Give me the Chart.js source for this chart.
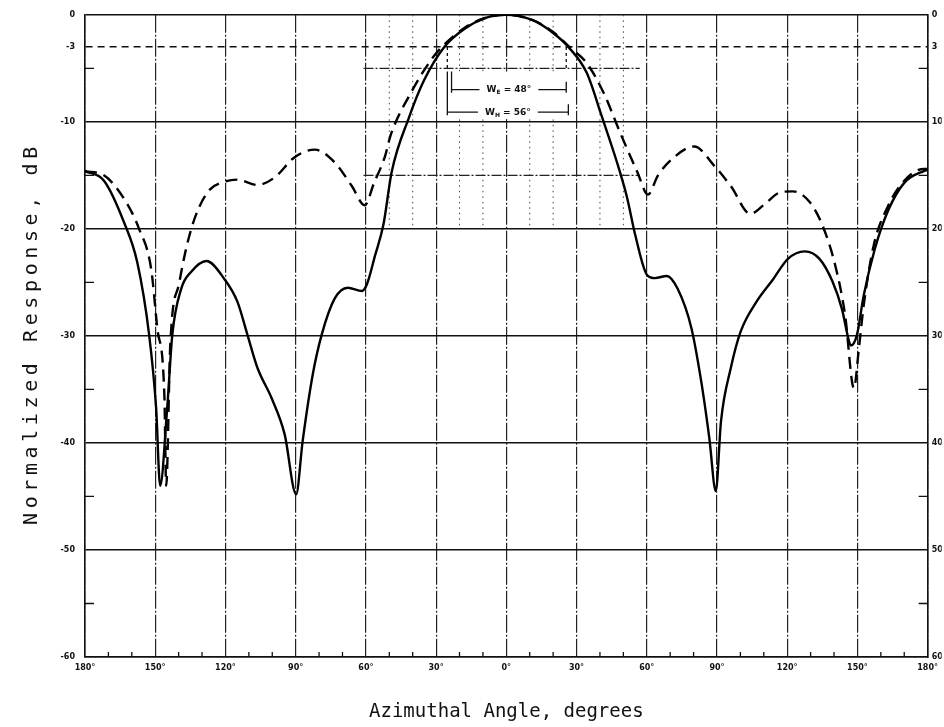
<!DOCTYPE html>
<html>
<head>
<meta charset="utf-8">
<script src="https://cdn.jsdelivr.net/npm/chart.js@4.4.0/dist/chart.umd.min.js"></script>
<style>
  html, body { margin: 0; padding: 0; background: #fff; }
  #wrap { width: 944px; height: 727px; }
</style>
</head>
<body>
<div id="wrap"><canvas id="pattern"></canvas></div>
<script>
// solid trace (angle in degrees, response in dB)
const solidAngle = [-180, -171.9, -163.3, -157.7, -152.6, -149.6, -147.9, -144.9, -142.7, -138.9, -134.6, -128.1,
  -120.4, -114.9, -110.6, -106.3, -100.3, -94.7, -89.8, -87.0, -82.7, -78.9, -73.3, -67.7, -61.7, -59.6, -56.1,
  -52.5, -49.0, -41.6, -35.1, -26.5, -17.8, -9.1, -0.4, 11.3, 20.0, 26.5, 34.3, 40.8, 47.3, 51.5, 55.1, 60.1,
  63.5, 68.5, 73.2, 79.1, 83.3, 86.7, 89.5, 91.7, 95.9, 100.1, 106.9, 114.0, 120.3, 127.5, 133.8, 139.3, 143.4,
  146.4, 147.2, 149.8, 152.7, 157.4, 163.3, 170.0, 178.4, 180];
const solidDb = [-14.6, -15.5, -19.4, -23.1, -29.9, -36.8, -44.0, -36.8, -29.9, -25.6, -24.0, -23.0,
  -24.7, -26.8, -29.9, -33.0, -35.8, -39.2, -44.8, -39.8, -33.6, -29.9, -26.5, -25.5, -25.8, -25.2, -22.5,
  -19.6, -14.7, -9.6, -6.1, -3.0, -1.3, -0.3, 0, -0.5, -1.7, -3.0, -5.4, -9.5, -13.8, -17.0, -20.6, -24.3,
  -24.6, -24.4, -25.6, -29.3, -34.3, -39.5, -44.5, -38.0, -33.0, -29.6, -26.8, -24.7, -22.8, -22.1, -22.8, -24.9, -27.5,
  -30.5, -30.9, -29.9, -26.2, -21.9, -18.2, -15.7, -14.6, -14.5];

// dashed trace
const dashedAngle = [-180, -171.9, -163.3, -156.9, -151.7, -149.1, -146.1, -145.3, -143.6, -139.7, -134.6, -127.7,
  -120.4, -114.9, -106.3, -99.0, -90.4, -81.8, -73.3, -66.0, -60.5, -56.5, -51.8, -49.5, -40.8, -32.1, -27.5,
  -17.8, -9.1, -0.4, 11.3, 20.0, 26.9, 34.3, 41.6, 48.6, 56.0, 60.5, 64.8, 70.7, 80.3, 88.8, 95.9, 104.3, 109.8,
  116.9, 122.4, 129.6, 135.1, 140.5, 144.7, 148.5, 150.6, 152.7, 157.0, 163.0, 170.0, 178.4, 180];
const dashedDb = [-14.6, -15.0, -17.2, -20.0, -23.8, -29.3, -35.5, -44.0, -31.0, -25.0, -20.0, -16.6,
  -15.6, -15.4, -15.9, -15.2, -13.3, -12.6, -13.8, -16.0, -17.8, -15.7, -13.2, -11.3, -7.3, -4.2, -3.0,
  -1.2, -0.3, 0, -0.5, -1.6, -3.0, -4.5, -7.3, -11.0, -14.7, -16.8, -15.0, -13.5, -12.3, -14.1, -16.0, -18.6, -17.8,
  -16.6, -16.5, -17.5, -19.7, -23.4, -28.0, -34.9, -31.2, -27.1, -21.5, -17.9, -15.5, -14.4, -14.4];

const yTickValues = [0, -3, -10, -20, -30, -40, -50, -60];
const minorDb = [-5, -15, -25, -35, -45, -55];
const minorAngle = [-170, -160, -140, -130, -110, -100, -80, -70, -50, -40, -20, -10,
  10, 20, 40, 50, 70, 80, 100, 110, 130, 140, 160, 170];
const insetAngle = [-50, -40, -20, -10, 10, 20, 40, 50];

// beamwidth annotation
const beamSub = ['E', 'H'];
const beamText = [' = 48°', ' = 56°'];
const beamFrom = [-23.4, -25.2];
const beamTo = [25.6, 26.5];
const beamLevel = [-7.0, -9.1];

const pts = (xs, ys) => xs.map((x, i) => ({ x: x, y: ys[i] }));

const decor = {
  id: 'decor',
  beforeDatasetsDraw(chart) {
    const ctx = chart.ctx;
    const sx = chart.scales.x, sy = chart.scales.y;
    const X = v => sx.getPixelForValue(v), Y = v => sy.getPixelForValue(v);
    ctx.save();
    // dotted inset grid round the main lobe
    ctx.strokeStyle = '#444';
    ctx.lineWidth = 1;
    ctx.setLineDash([1.5, 4]);
    insetAngle.forEach(a => {
      ctx.beginPath();
      ctx.moveTo(X(a), Y(0));
      ctx.lineTo(X(a), Y(-20));
      ctx.stroke();
    });
    ctx.setLineDash([10, 2, 2, 2]);
    ctx.strokeStyle = '#222';
    ctx.lineWidth = 1.2;
    [-5, -15].forEach(d => {
      ctx.beginPath();
      ctx.moveTo(X(-61), Y(d));
      ctx.lineTo(X(57), Y(d));
      ctx.stroke();
    });
    // blank box for the labels
    ctx.fillStyle = '#fff';
    ctx.fillRect(X(-29.4), Y(-5.3), X(29.4) - X(-29.4), Y(-9.75) - Y(-5.3));
    // beam width bars
    ctx.setLineDash([]);
    ctx.strokeStyle = '#111';
    ctx.fillStyle = '#111';
    ctx.lineWidth = 1.3;
    beamSub.forEach((s, i) => {
      const y = Y(beamLevel[i]);
      const x1 = X(beamFrom[i]), x2 = X(beamTo[i]);
      const mid = X((beamFrom[i] + beamTo[i]) / 2);
      ctx.font = 'bold 9px "DejaVu Sans"';
      const wW = ctx.measureText('W').width;
      const wT = ctx.measureText(beamText[i]).width;
      ctx.font = 'bold 6px "DejaVu Sans"';
      const wS = ctx.measureText(s).width;
      const total = wW + wS + wT;
      const t0 = mid - total / 2;
      ctx.beginPath();
      ctx.moveTo(x1, y); ctx.lineTo(t0 - 7, y);
      ctx.moveTo(t0 + total + 7, y); ctx.lineTo(x2, y);
      ctx.moveTo(x1, y + 3); ctx.lineTo(x1, Y(-5.3));
      ctx.moveTo(x2, y + 3); ctx.lineTo(x2, y - 8);
      ctx.stroke();
      ctx.textBaseline = 'middle';
      ctx.textAlign = 'left';
      ctx.font = 'bold 9px "DejaVu Sans"';
      ctx.fillText('W', t0, y);
      ctx.font = 'bold 6px "DejaVu Sans"';
      ctx.fillText(s, t0 + wW, y + 3);
      ctx.font = 'bold 9px "DejaVu Sans"';
      ctx.fillText(beamText[i], t0 + wW + wS, y);
    });
    ctx.setLineDash([3, 3]);
    ctx.beginPath();
    ctx.moveTo(X(beamFrom[1]), Y(-3)); ctx.lineTo(X(beamFrom[1]), Y(-5));
    ctx.moveTo(X(beamTo[0]), Y(-3)); ctx.lineTo(X(beamTo[0]), Y(-5));
    ctx.stroke();
    ctx.restore();
  },
  afterDraw(chart) {
    const ctx = chart.ctx;
    const sx = chart.scales.x, sy = chart.scales.y;
    const a = chart.chartArea;
    ctx.save();
    ctx.strokeStyle = '#111';
    ctx.lineWidth = 1.3;
    ctx.beginPath();
    minorDb.forEach(d => {
      const y = sy.getPixelForValue(d);
      ctx.moveTo(a.left, y); ctx.lineTo(a.left + 9, y);
      ctx.moveTo(a.right, y); ctx.lineTo(a.right - 9, y);
    });
    minorAngle.forEach(v => {
      const x = sx.getPixelForValue(v);
      ctx.moveTo(x, a.bottom); ctx.lineTo(x, a.bottom - 5);
    });
    ctx.stroke();
    // y axis title, spaced out like the typed original
    ctx.fillStyle = '#111';
    ctx.translate(32, (a.top + a.bottom) / 2);
    ctx.rotate(-Math.PI / 2);
    ctx.font = '20px "DejaVu Sans Mono"';
    ctx.textAlign = 'center';
    ctx.textBaseline = 'middle';
    if ('letterSpacing' in ctx) {
      ctx.letterSpacing = '4.6px';
      ctx.fillText('Normalized Response, dB', 2.3, 0);
    } else {
      ctx.scale(1.39, 1);
      ctx.fillText('Normalized Response, dB', 0, 0);
    }
    ctx.restore();
  }
};

const tickFont = { family: 'DejaVu Sans', size: 8, weight: 'bold' };
const setTicks = scale => { scale.ticks = yTickValues.map(v => ({ value: v })); };

new Chart(document.getElementById('pattern'), {
  type: 'line',
  data: {
    datasets: [
      {
        label: 'solid',
        data: pts(solidAngle, solidDb),
        borderColor: '#000',
        borderWidth: 2.4,
        pointRadius: 0,
        cubicInterpolationMode: 'monotone',
        fill: false
      },
      {
        label: 'dashed',
        data: pts(dashedAngle, dashedDb),
        borderColor: '#000',
        borderWidth: 2.4,
        borderDash: [12, 7],
        pointRadius: 0,
        cubicInterpolationMode: 'monotone',
        fill: false
      }
    ]
  },
  options: {
    responsive: true,
    maintainAspectRatio: false,
    animation: false,
    layout: { padding: { top: 12, left: 0, right: 0, bottom: 0 } },
    plugins: { legend: { display: false }, tooltip: { enabled: false } },
    scales: {
      x: {
        type: 'linear',
        min: -180,
        max: 180,
        afterFit: s => { s.height = 70; },
        ticks: {
          stepSize: 30,
          padding: 6,
          maxRotation: 0,
          color: '#111',
          font: tickFont,
          callback: v => Math.abs(v) + '°'
        },
        grid: { color: '#222', lineWidth: 1.2, drawTicks: false },
        border: { color: '#111', width: 1.6, dash: c => (c.tick ? [18, 2, 2, 2] : []) },
        title: {
          display: true,
          text: 'Azimuthal Angle, degrees',
          color: '#111',
          font: { family: 'DejaVu Sans Mono', size: 19 },
          padding: { top: 0, bottom: 4 }
        }
      },
      y: {
        type: 'linear',
        position: 'left',
        min: -60,
        max: 0,
        afterFit: s => { s.width = 85; },
        afterBuildTicks: setTicks,
        ticks: { padding: 10, color: '#111', font: tickFont, callback: v => String(v) },
        grid: { color: '#111', lineWidth: 1.4, drawTicks: false },
        border: { color: '#111', width: 1.6, dash: c => (c.tick && c.tick.value === -3 ? [7, 5] : []) }
      },
      y2: {
        type: 'linear',
        position: 'right',
        min: -60,
        max: 0,
        afterFit: s => { s.width = 14; },
        afterBuildTicks: setTicks,
        ticks: { padding: 4, color: '#111', font: tickFont, callback: v => String(Math.abs(v)) },
        grid: { drawOnChartArea: false, drawTicks: false },
        border: { color: '#111', width: 1.6 }
      }
    }
  },
  plugins: [decor]
});
</script>
</body>
</html>
